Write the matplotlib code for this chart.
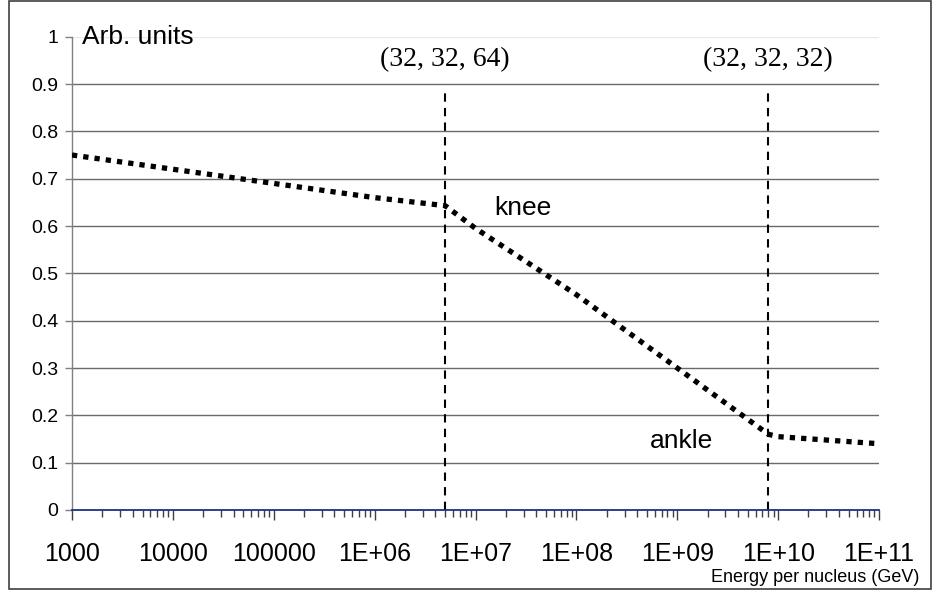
import matplotlib
matplotlib.use("Agg")
import matplotlib.pyplot as plt
from matplotlib.patches import Rectangle
from matplotlib.ticker import LogLocator, FixedLocator, NullFormatter

# ---- data ----
energy = [1e3, 1e4, 1e5, 1e6, 5e6, 1e7, 1e8, 1e9, 8e9, 1e10, 1e11]
arb = [0.75, 0.72, 0.69, 0.66, 0.643, 0.595, 0.455, 0.30, 0.16, 0.155, 0.14]
xtick_vals = [1e3, 1e4, 1e5, 1e6, 1e7, 1e8, 1e9, 1e10, 1e11]
xtick_labels = ["1000", "10000", "100000", "1E+06", "1E+07", "1E+08", "1E+09", "1E+10", "1E+11"]
ytick_vals = [0, 0.1, 0.2, 0.3, 0.4, 0.5, 0.6, 0.7, 0.8, 0.9, 1]
ytick_labels = ["0", "0.1", "0.2", "0.3", "0.4", "0.5", "0.6", "0.7", "0.8", "0.9", "1"]
markers_x = [5e6, 8e9]
marker_labels = ["(32, 32, 64)", "(32, 32, 32)"]
features = [("knee", 2.95e7, 0.638), ("ankle", 1.1e9, 0.146)]

W, H = 932, 596
fig = plt.figure(figsize=(W / 100, H / 100), dpi=100)
fig.patch.set_facecolor("white")
plt.rcParams["font.family"] = ["Liberation Sans", "DejaVu Sans"]

L, R, B, T = 72, 879, 510, 36.7
ax = fig.add_axes([L / W, 1 - B / H, (R - L) / W, (B - T) / H])
ax.set_xscale("log")
ax.set_xlim(1e3, 1e11)
ax.set_ylim(0, 1)

# outer frame
fig.add_artist(Rectangle((9 / W, 1 - 589 / H), (931 - 9) / W, (589 - 1) / H,
                         transform=fig.transFigure, fill=False,
                         edgecolor="#404040", linewidth=1.2))

# gridlines
for v in ytick_vals[1:-1]:
    ax.axhline(v, color="#6a6a6a", linewidth=1.0, zorder=1)
ax.axhline(1.0, color="#eaeaea", linewidth=1.0, zorder=1)

# spines
for s in ["top", "right"]:
    ax.spines[s].set_visible(False)
ax.spines["left"].set_color("#808080")
ax.spines["left"].set_linewidth(1.0)
ax.spines["bottom"].set_color("#1a2f8a")
ax.spines["bottom"].set_linewidth(1.3)
ax.spines["bottom"].set_zorder(4)

# ticks
ax.xaxis.set_major_locator(FixedLocator(xtick_vals))
ax.set_xticklabels(xtick_labels)
ax.xaxis.set_minor_locator(LogLocator(base=10, subs=range(2, 10), numticks=50))
ax.xaxis.set_minor_formatter(NullFormatter())
ax.tick_params(axis="x", which="major", direction="out", length=7, width=1,
               color="#404040", labelsize=18, pad=16)
ax.tick_params(axis="x", which="minor", direction="out", length=5, width=1,
               color="#404040")
ax.set_yticks(ytick_vals)
ax.set_yticklabels(ytick_labels)
ax.tick_params(axis="y", direction="out", length=5, width=1, color="#808080",
               labelsize=14, pad=5)

# vertical dashed markers
for xv in markers_x:
    ax.plot([xv, xv], [0, 0.89], color="black", linewidth=1.5,
            linestyle=(0, (4, 3)), zorder=3)
for xv, lab in zip(markers_x, marker_labels):
    ax.text(xv, 0.952, lab, ha="center", va="center", fontsize=20,
            family=["Liberation Serif", "DejaVu Serif"])

# data curve
ln, = ax.plot(energy, arb, color="black", linewidth=3.8,
              linestyle=(0, (1.0, 1.15)), zorder=5)
ln.set_dash_capstyle("butt")

for lab, xv, yv in features:
    ax.text(xv, yv, lab, ha="center", va="center", fontsize=19)

ax.text(0.012, 1.0, "Arb. units", transform=ax.transAxes, ha="left",
        va="center", fontsize=19)
fig.text(919 / W, 1 - 578 / H, "Energy per nucleus (GeV)", ha="right",
         va="center", fontsize=13)

fig.savefig("out.png", dpi=100, facecolor="white")
